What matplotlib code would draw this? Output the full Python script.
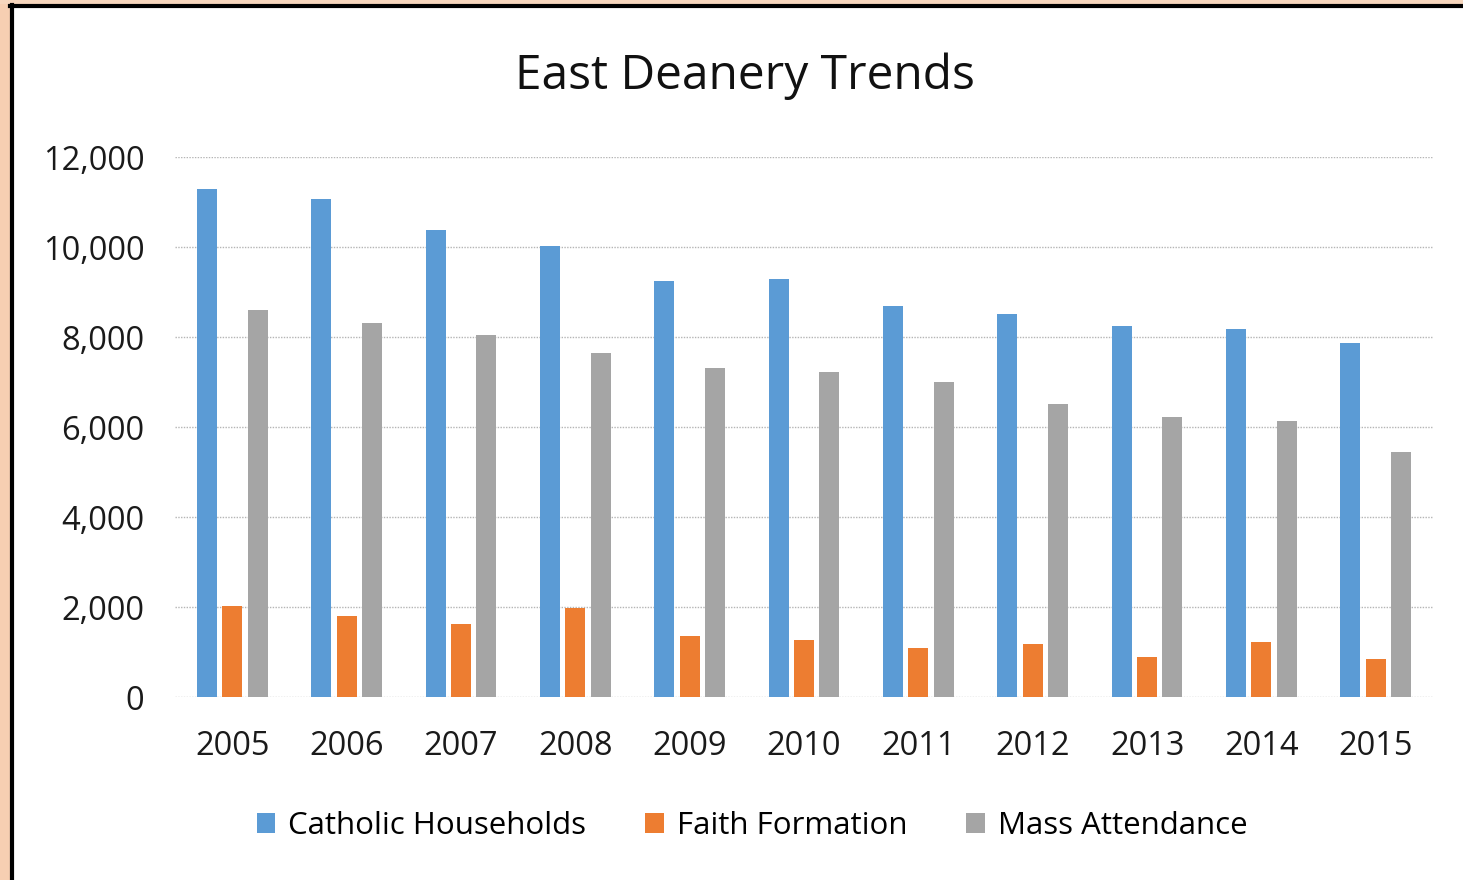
import numpy as np
import matplotlib
matplotlib.use("Agg")
import matplotlib.pyplot as plt
from matplotlib.patches import Rectangle

plt.rcParams['font.family'] = ['Open Sans', 'DejaVu Sans']

# data
years = ['2005', '2006', '2007', '2008', '2009', '2010',
         '2011', '2012', '2013', '2014', '2015']
households = [11300, 11070, 10380, 10020, 9250, 9290, 8690, 8510, 8250, 8180, 7870]
formation = [2020, 1800, 1620, 1980, 1360, 1270, 1090, 1180, 890, 1220, 850]
attendance = [8600, 8310, 8040, 7640, 7310, 7220, 7000, 6510, 6220, 6130, 5440]

fig = plt.figure(figsize=(14.63, 8.8), dpi=100)
fig.patch.set_facecolor('white')

# peach frame on the left and top, with a black border line
fig.patches.append(Rectangle((0, 0), 10 / 1463, 1, transform=fig.transFigure,
                             facecolor='#f7cfb2', edgecolor='none', zorder=0))
fig.patches.append(Rectangle((0, 1 - 4 / 880), 1, 4 / 880, transform=fig.transFigure,
                             facecolor='#f7d6bd', edgecolor='none', zorder=0))
fig.add_artist(plt.Line2D([12 / 1463, 12 / 1463], [0, 1 - 5 / 880],
                          transform=fig.transFigure, color='black', lw=3))
fig.add_artist(plt.Line2D([10 / 1463, 1], [1 - 6 / 880, 1 - 6 / 880],
                          transform=fig.transFigure, color='black', lw=3))

ax = fig.add_axes([175 / 1463, 1 - 697 / 880, 1258 / 1463, 540 / 880])

x = np.arange(len(years))
w = 0.175
step = 0.222
ax.bar(x - step, households, w, color='#5b9bd5', label='Catholic Households', zorder=3)
ax.bar(x, formation, w, color='#ed7d31', label='Faith Formation', zorder=3)
ax.bar(x + step, attendance, w, color='#a5a5a5', label='Mass Attendance', zorder=3)

ax.set_xlim(-0.5, len(years) - 0.5)
ax.set_ylim(0, 12000)
ax.set_yticks(range(0, 12001, 2000))
ax.set_yticklabels([f'{v:,}' for v in range(0, 12001, 2000)])
ax.set_xticks(x)
ax.set_xticklabels(years)
ax.yaxis.grid(True, color='#b5b5b5', linestyle=(0, (1, 1)), lw=1, zorder=0)
for s in ax.spines.values():
    s.set_visible(False)
ax.tick_params(length=0, labelsize=23.5, colors='#1a1a1a')
ax.tick_params(axis='y', pad=22)
ax.tick_params(axis='x', pad=24)

fig.text(745 / 1463, 1 - 76 / 880, 'East Deanery Trends', ha='center', va='center',
         fontsize=34.5, color='#111111')

fig.legend(loc='center', bbox_to_anchor=(752 / 1463, 1 - 826 / 880), ncol=3,
           frameon=False, fontsize=22.5, handlelength=0.6, handleheight=0.6,
           handletextpad=0.4, columnspacing=1.9)

fig.savefig('out.png', dpi=100, facecolor=fig.get_facecolor())
